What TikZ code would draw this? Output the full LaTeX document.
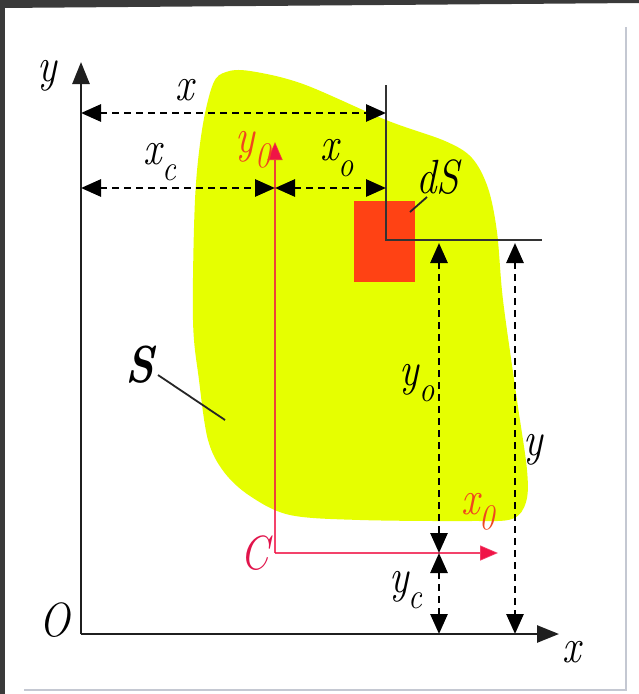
\documentclass[tikz,border=0pt]{standalone}
\usepackage{fontspec}
\usetikzlibrary{arrows.meta}
\definecolor{blob}{RGB}{230,255,0}
\definecolor{sq}{RGB}{255,66,20}
\definecolor{redax}{RGB}{240,20,70}
\definecolor{redlab}{RGB}{240,70,30}
\definecolor{crim}{RGB}{225,20,75}
\definecolor{darkframe}{RGB}{58,58,58}
\definecolor{edgegray}{RGB}{196,200,210}
\newcommand\lowsub[1]{\raisebox{-0.32em}{\fontsize{36}{36}\selectfont\addfontfeatures{FakeBold=1.6}#1}}
\newcommand\nar[1]{\scalebox{0.85}[1]{#1}}
\begin{document}
\begin{tikzpicture}[x=1pt,y=-1pt,
  lab/.style={font=\fontsize{48}{48}\selectfont\itshape\addfontfeatures{FakeBold=1.6}, inner sep=0pt},
  axisline/.style={line width=2.6pt, draw=black!88, -{Triangle[length=22pt,width=17pt]}},
  dimline/.style={line width=2.8pt, dash pattern=on 7pt off 5pt,
     {Triangle[length=20pt,width=17pt]}-{Triangle[length=20pt,width=17pt]}},
  redaxis/.style={line width=1.6pt, draw=redax, draw opacity=0.8,
     -{Triangle[length=18pt,width=15pt,fill=redax]}},
  refline/.style={line width=2pt, draw=black!80},
  lead/.style={line width=1.8pt, draw=black!85}]
\useasboundingbox (0,0) rectangle (639,694);
\fill[white] (0,0) rectangle (639,694);
% outer frame
\fill[darkframe] (0,0) -- (639,0) -- (639,3) -- (0,8) -- cycle;
\fill[darkframe] (0,0) rectangle (5,694);
\draw[edgegray, line width=2pt] (626,27) -- (626,690) -- (24,690);
% region S
\fill[blob] plot[smooth cycle, tension=0.55] coordinates {(213,84) (226,72) (250,71) (303,84) (386,120) (445,141) (472,158) (488,188) (497,232) (503,300) (517,400) (527,470) (526,502) (512,519) (470,521) (360,520) (290,515) (250,496) (224,472) (208,440) (199,380) (193,320) (195,200) (202,130)};
% element dS
\node[fill=sq, minimum width=61pt, minimum height=81pt, inner sep=0pt, anchor=north west] (dS) at (354,201) {};
% coordinates
\coordinate (O) at (81,634);
\coordinate (Ytip) at (81,62);
\coordinate (Xtip) at (559,634);
\coordinate (Cc) at (275,553);
\coordinate (Y0tip) at (275,142);
\coordinate (X0tip) at (498,553);
\coordinate (Ltop) at (386,85);
\coordinate (Lc) at (386,240);
\coordinate (Lr) at (542,240);
\coordinate (dxL) at (81,113);
\coordinate (dxR) at (386,113);
\coordinate (dcL) at (81,188);
\coordinate (dcR) at (275,188);
\coordinate (doR) at (386,188);
\coordinate (vyoT) at (439,243);
\coordinate (vyoB) at (439,553);
\coordinate (vycB) at (439,634);
\coordinate (vyT) at (515,243);
\coordinate (vyB) at (515,634);
\coordinate (Sa) at (158,375);
\coordinate (Sb) at (225,420);
\coordinate (dSa) at (427,197);
\coordinate (dSb) at (410,212);
% central axes
\draw[redaxis] (Cc) -- (Y0tip);
\draw[redaxis] (Cc) -- (X0tip);
% local reference lines
\draw[refline] (Ltop) -- (Lc) -- (Lr);
% dimensions
\draw[dimline] (dxL) -- (dxR);
\draw[dimline] (dcL) -- (dcR);
\draw[dimline] (dcR) -- (doR);
\draw[dimline] (vyoT) -- (vyoB);
\draw[dimline] (vyoB) -- (vycB);
\draw[dimline] (vyT) -- (vyB);
% axes
\draw[axisline] (O) -- (Ytip);
\draw[axisline] (O) -- (Xtip);
% leaders
\draw[lead] (Sa) -- (Sb);
\draw[lead] (dSa) -- (dSb);
% labels
\node[lab] (ly) at (47,76) {\nar{y}};
\node[lab] (lx1) at (185,90) {\nar{x}};
\node[lab] (lxc) at (160,162) {\nar{x\lowsub{c}}};
\node[lab] (lxo) at (337,158) {\nar{x\lowsub{o}}};
\node[lab, text=redlab] (ly0) at (253,150) {\nar{y\lowsub{0}}};
\node[lab] (ldS) at (438,177) {\nar{dS}};
\node[lab, font=\fontsize{52}{52}\selectfont\bfseries\itshape] (lS) at (140,365) {\nar{S}};
\node[lab, text=crim] (lC) at (255,553) {\nar{C}};
\node[lab] (lyo) at (417,383) {\nar{y\lowsub{o}}};
\node[lab] (lyy) at (533,450) {\nar{y}};
\node[lab, text=redlab] (lx0) at (478,512) {\nar{x\lowsub{0}}};
\node[lab] (lyc) at (406,590) {\nar{y\lowsub{c}}};
\node[lab] (lO) at (55,620) {\nar{O}};
\node[lab] (lx2) at (572,652) {\nar{x}};
\end{tikzpicture}
\end{document}
